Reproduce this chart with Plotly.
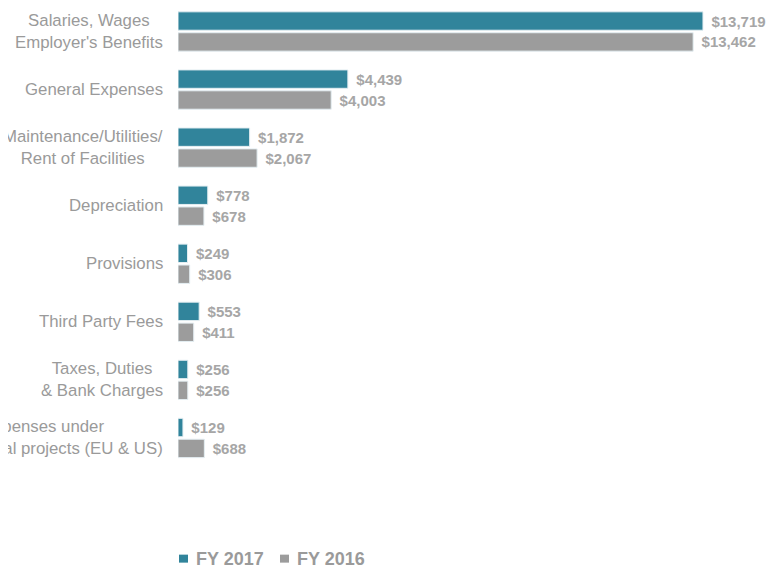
import plotly.graph_objects as go

categories = [
    "Salaries, Wages<br>Employer's Benefits",
    "General Expenses",
    "Maintenance/Utilities/<br>Rent of Facilities",
    "Depreciation",
    "Provisions",
    "Third Party Fees",
    "Taxes, Duties<br>& Bank Charges",
    "Expenses under<br>International projects (EU & US)",
]
fy2017 = [13719, 4439, 1872, 778, 249, 553, 256, 129]
fy2016 = [13462, 4003, 2067, 678, 306, 411, 256, 688]
series_names = ["FY 2017", "FY 2016"]

TEAL = "#31849B"
GRAY = "#9C9C9C"
LABEL = "#A6A6A6"
AXIS_TEXT = "#9A9A9A"
FONT = "Liberation Sans, Arial, sans-serif"

# page body has an 8px margin, so the figure is 8px smaller than the window
W, H = 768, 558
L, R, T = 170, 24, 0
PLOT_H = 459.3
B = H - T - PLOT_H

fig = go.Figure()
for name, vals, col in [(series_names[0], fy2017, TEAL), (series_names[1], fy2016, GRAY)]:
    fig.add_trace(go.Bar(
        name=name,
        y=categories,
        x=vals,
        orientation="h",
        marker=dict(color=col, line=dict(color="#E4EEF2", width=1)),
        text=["\u00a0\u200a${:,}".format(v) for v in vals],
        textposition="outside",
        textfont=dict(family=FONT, size=15, color=LABEL, weight="bold"),
        constraintext="none",
        cliponaxis=False,
        hoverinfo="skip",
        showlegend=False,
    ))

# category labels: centred multi-line text to the left of the bars
for c in categories:
    fig.add_annotation(
        x=0, xref="paper", y=c, yref="y",
        xanchor="right", yanchor="middle", xshift=-13,
        text=c, align="center", showarrow=False,
        font=dict(family=FONT, size=16.8, color=AXIS_TEXT),
    )

# legend (small squares + bold labels) at the bottom
legend_sq_x = [171, 272]     # left edge of squares, figure px
legend_tx_x = [186, 287]     # left edge of labels, figure px
legend_y = 551.5             # centre line, figure px
colors = [TEAL, GRAY]
for i, name in enumerate(series_names):
    fig.add_shape(
        type="rect", xref="paper", yref="paper",
        x0=(legend_sq_x[i] - L) / (W - L - R), x1=(legend_sq_x[i] + 9 - L) / (W - L - R),
        y0=-(legend_y + 3.5 - T - PLOT_H) / PLOT_H - 1 + 1 - 0,
        y1=-(legend_y - 4.5 - T - PLOT_H) / PLOT_H - 1 + 1 - 0,
        fillcolor=colors[i], line=dict(width=0),
    )
    fig.add_annotation(
        x=(legend_tx_x[i] - L) / (W - L - R), xref="paper",
        y=(T + PLOT_H - legend_y) / PLOT_H, yref="paper",
        xanchor="left", yanchor="middle", showarrow=False,
        text=name, font=dict(family=FONT, size=18, color=AXIS_TEXT, weight="bold"),
    )

fig.update_layout(
    width=W, height=H,
    margin=dict(l=L, r=R, t=T, b=B, pad=0, autoexpand=False),
    paper_bgcolor="white", plot_bgcolor="white",
    barmode="group", bargap=0.28, bargroupgap=0.12,
    showlegend=False,
    xaxis=dict(range=[0, 15000], showgrid=False, zeroline=False, showticklabels=False,
               showline=False, fixedrange=True),
    yaxis=dict(range=[7.5, -0.4045], showticklabels=False, showgrid=False,
               showline=False, zeroline=False, fixedrange=True),
)

fig.write_html("out.html")
